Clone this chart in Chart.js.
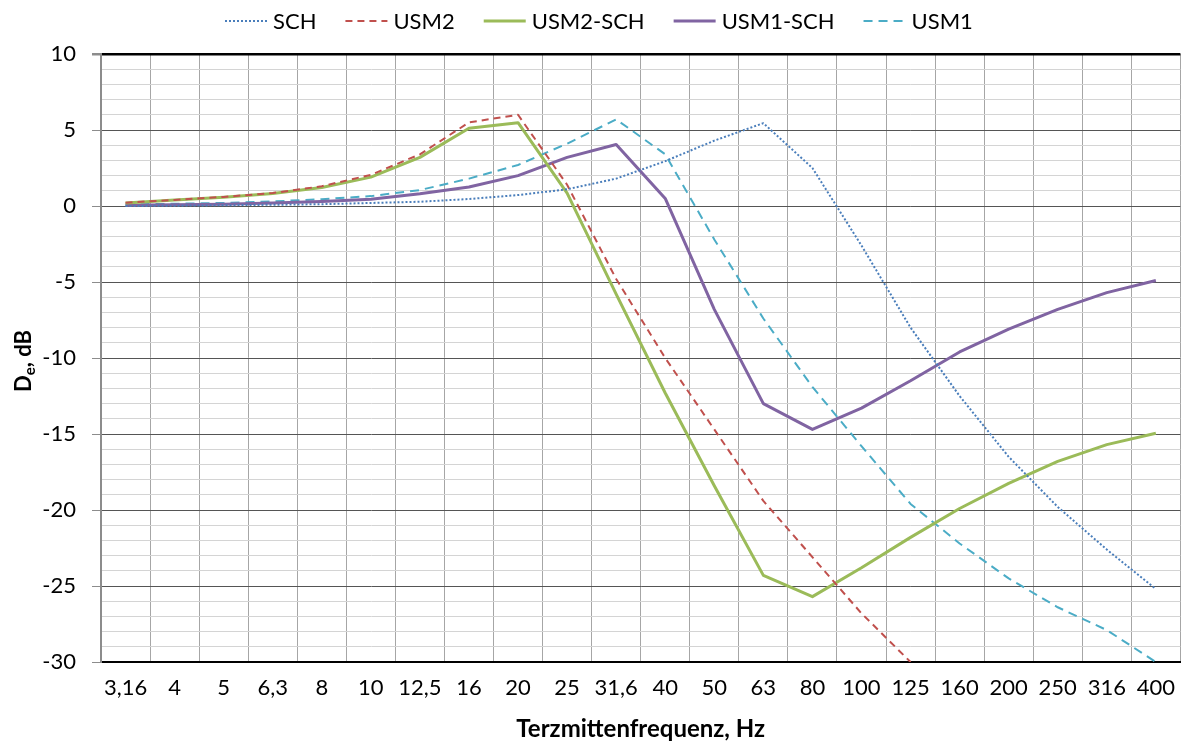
<!DOCTYPE html>
<html>
<head>
<meta charset="utf-8">
<script src="https://cdn.jsdelivr.net/npm/chart.js@4"></script>
<style>
  html, body { margin: 0; padding: 0; background: #fff; }
  canvas { display: block; }
</style>
</head>
<body>
<canvas id="chart" width="1188" height="744"></canvas>
<script>
const bands = ['3,16', '4', '5', '6,3', '8', '10', '12,5', '16', '20', '25', '31,6', '40', '50', '63', '80', '100', '125', '160', '200', '250', '316', '400'];

const sch = [0.0, 0.02, 0.05, 0.08, 0.12, 0.2, 0.28, 0.46, 0.72, 1.1, 1.8, 2.95, 4.3, 5.45, 2.5, -2.6, -8.0, -12.5, -16.5, -19.8, -22.6, -25.2];
const usm2 = [0.22, 0.4, 0.6, 0.85, 1.3, 2.05, 3.4, 5.5, 6.0, 1.4, -4.8, -10.0, -14.7, -19.4, -23.1, -26.8, -30.0, null, null, null, null, null];
const usm2Sch = [0.2, 0.4, 0.58, 0.82, 1.22, 1.9, 3.2, 5.12, 5.48, 0.85, -5.8, -12.3, -18.4, -24.3, -25.7, -23.8, -21.8, -19.9, -18.25, -16.8, -15.7, -14.95];
const usm1Sch = [0.05, 0.08, 0.12, 0.2, 0.3, 0.45, 0.8, 1.25, 2.0, 3.2, 4.05, 0.5, -6.8, -13.0, -14.7, -13.3, -11.5, -9.6, -8.1, -6.8, -5.7, -4.9];
const usm1 = [0.1, 0.15, 0.2, 0.3, 0.45, 0.65, 1.05, 1.8, 2.7, 4.1, 5.7, 3.4, -2.2, -7.4, -11.9, -15.8, -19.6, -22.2, -24.5, -26.4, -27.9, -30.0];

const yMin = -30;
const yMax = 10;

const FONT = 'Lato';

function series(label, data, color, width, dash) {
    return {
        label: label,
        data: data,
        borderColor: color,
        backgroundColor: color,
        borderWidth: width,
        borderDash: dash,
        borderJoinStyle: 'round',
        pointRadius: 0,
        pointHoverRadius: 0,
        fill: false,
        tension: 0
    };
}

// line samples + names across the top
const topLegend = {
    id: 'topLegend',
    afterDraw(chart) {
        const ctx = chart.ctx;
        ctx.save();
        ctx.font = '22px ' + FONT;
        ctx.textBaseline = 'middle';
        ctx.fillStyle = '#000';
        let x = 225;
        const y = 21;
        chart.data.datasets.forEach(ds => {
            ctx.beginPath();
            ctx.strokeStyle = ds.borderColor;
            ctx.lineWidth = ds.borderWidth;
            ctx.setLineDash(ds.borderDash || []);
            ctx.moveTo(x, y);
            ctx.lineTo(x + 42, y);
            ctx.stroke();
            ctx.setLineDash([]);
            ctx.fillText(ds.label, x + 48, y + 1);
            x += 48 + ctx.measureText(ds.label).width + 29;
        });
        ctx.restore();
    }
};

// rotated y title with subscript e
const yTitle = {
    id: 'yTitle',
    afterDraw(chart) {
        const ctx = chart.ctx;
        const area = chart.chartArea;
        const big = 'bold 22px ' + FONT;
        const small = 'bold 15px ' + FONT;
        ctx.save();
        ctx.font = big;
        const wD = ctx.measureText('D').width;
        const wRest = ctx.measureText(', dB').width;
        ctx.font = small;
        const wE = ctx.measureText('e').width;
        const total = wD + wE + wRest;
        ctx.translate(24, (area.top + area.bottom) / 2 + 3);
        ctx.rotate(-Math.PI / 2);
        ctx.fillStyle = '#000';
        ctx.textBaseline = 'alphabetic';
        let x = -total / 2;
        ctx.font = big;
        ctx.fillText('D', x, 7);
        x += wD;
        ctx.font = small;
        ctx.fillText('e', x, 11);
        x += wE;
        ctx.font = big;
        ctx.fillText(', dB', x, 7);
        ctx.restore();
    }
};

new Chart(document.getElementById('chart'), {
    type: 'line',
    data: {
        labels: bands,
        datasets: [
            series('SCH', sch, '#4a7ebb', 2, [2, 2]),
            series('USM2', usm2, '#c0504d', 2, [7, 5]),
            series('USM2-SCH', usm2Sch, '#9bbb59', 3, []),
            series('USM1-SCH', usm1Sch, '#8064a2', 3, []),
            series('USM1', usm1, '#4bacc6', 2, [9, 6])
        ]
    },
    options: {
        responsive: false,
        animation: false,
        devicePixelRatio: 1,
        layout: { padding: { top: 54, left: 0, right: 0, bottom: 0 } },
        plugins: {
            legend: { display: false },
            tooltip: { enabled: false }
        },
        scales: {
            x: {
                offset: true,
                afterFit: s => { s.height = 82; },
                grid: { offset: true, color: '#a6a6a6', lineWidth: 1, drawTicks: false },
                border: { color: '#000', width: 2 },
                ticks: {
                    autoSkip: false,
                    maxRotation: 0,
                    padding: 13,
                    color: '#000',
                    font: { family: FONT, size: 22 }
                },
                title: {
                    display: true,
                    text: 'Terzmittenfrequenz, Hz',
                    color: '#000',
                    font: { family: FONT, size: 24, weight: 'bold' },
                    padding: { top: 0, bottom: 0 }
                }
            },
            y: {
                min: yMin,
                max: yMax,
                afterFit: s => { s.width = 101; },
                border: { color: '#8c8c8c', width: 2 },
                grid: {
                    color: c => {
                        const v = c.tick.value;
                        if (v === yMax) return '#000';
                        return v % 5 === 0 ? '#555' : '#d4d4d4';
                    },
                    lineWidth: c => c.tick.value === yMax ? 2.5 : 1,
                    tickColor: c => c.tick.value % 5 === 0 ? '#8c8c8c' : 'rgba(0,0,0,0)',
                    tickLength: 9
                },
                ticks: {
                    stepSize: 1,
                    autoSkip: false,
                    maxTicksLimit: 100,
                    padding: 16,
                    color: '#000',
                    font: { family: FONT, size: 22 },
                    callback: v => v % 5 === 0 ? String(v) : ''
                }
            }
        }
    },
    plugins: [topLegend, yTitle]
});
</script>
</body>
</html>
